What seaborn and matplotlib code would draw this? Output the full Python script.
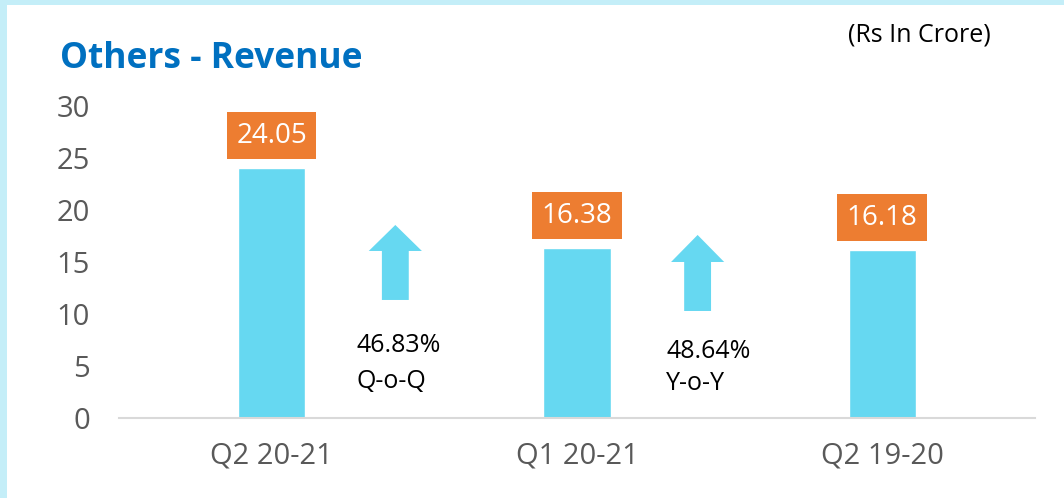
import matplotlib
matplotlib.use("Agg")
import matplotlib.pyplot as plt
from matplotlib.patches import FancyArrow, Rectangle
import seaborn as sns

# ---- data ----
categories = ["Q2 20-21", "Q1 20-21", "Q2 19-20"]
revenue = [24.05, 16.38, 16.18]
change_pct = [46.83, 48.64]
change_kind = ["Q-o-Q", "Y-o-Y"]
y_ticks = [0, 5, 10, 15, 20, 25, 30]

BAR = "#66D8F1"
ORANGE = "#ED7D31"
GRAY = "#595959"
FONT = "Open Sans"

sns.set_style("white")
plt.rcParams["font.family"] = [FONT, "DejaVu Sans"]

W, H = 1064, 498
fig = plt.figure(figsize=(W / 100, H / 100), dpi=100, facecolor="#C4EEF8")
# white panel inside light-cyan frame
fig.patches.append(Rectangle((7 / W, 0), 1 - 7 / W, 1 - 5 / H, transform=fig.transFigure,
                             facecolor="white", edgecolor="none", zorder=-10))

ax = fig.add_axes([119 / W, 1 - 418 / H, (1035 - 119) / W, (418 - 106) / H])
ax.set_facecolor("none")

sns.barplot(x=categories, y=revenue, color=BAR, width=0.22, saturation=1, ax=ax)
ax.set_xlim(-0.5, 2.5)
ax.set_ylim(0, 30)
ax.set_yticks(y_ticks)
ax.set_yticklabels([str(t) for t in y_ticks])
ax.tick_params(axis="y", length=0, pad=21, labelsize=21, labelcolor=GRAY)
ax.tick_params(axis="x", length=0, pad=17, labelsize=21, labelcolor=GRAY)
ax.set_xlabel("")
ax.set_ylabel("")
for s in ["top", "right", "left"]:
    ax.spines[s].set_visible(False)
ax.spines["bottom"].set_color("#D9D9D9")
ax.spines["bottom"].set_linewidth(1.5)

# value labels in orange boxes
for i, v in enumerate(revenue):
    ax.annotate(f"{v:.2f}", xy=(i, v), xytext=(0, 23), textcoords="offset points",
                ha="center", va="center", fontsize=20, color="white",
                bbox=dict(boxstyle="square,pad=0.34", fc=ORANGE, ec="none"),
                annotation_clip=False)

# growth arrows and texts
arrow_specs = [
    # x center, base y, tip y, head base y, text x, pct baseline, kind baseline
    (0.405, 11.35, 18.56, 16.06, 0.279, 6.35, 2.85),
    (1.395, 10.29, 17.60, 15.00, 1.292, 5.77, 2.65),
]
for (xc, yb, yt, yh, tx, ty1, ty2), pct, kind in zip(arrow_specs, change_pct, change_kind):
    ax.add_patch(FancyArrow(xc, yb, 0, yt - yb, width=0.088, head_width=0.174,
                            head_length=yt - yh, length_includes_head=True,
                            facecolor=BAR, edgecolor="none"))
    ax.text(tx, ty1, f"{pct:.2f}%", fontsize=18, color="black", ha="left", va="baseline")
    ax.text(tx, ty2, kind, fontsize=18, color="black", ha="left", va="baseline")

fig.text(60 / W, 1 - 68 / H, "Others - Revenue", fontsize=25.5, fontweight="bold",
         color="#0070C0", ha="left", va="baseline")
fig.text(848 / W, 1 - 42 / H, "(Rs In Crore)", fontsize=18, color="black",
         ha="left", va="baseline")

fig.savefig("out.png", dpi=100, facecolor=fig.get_facecolor())
